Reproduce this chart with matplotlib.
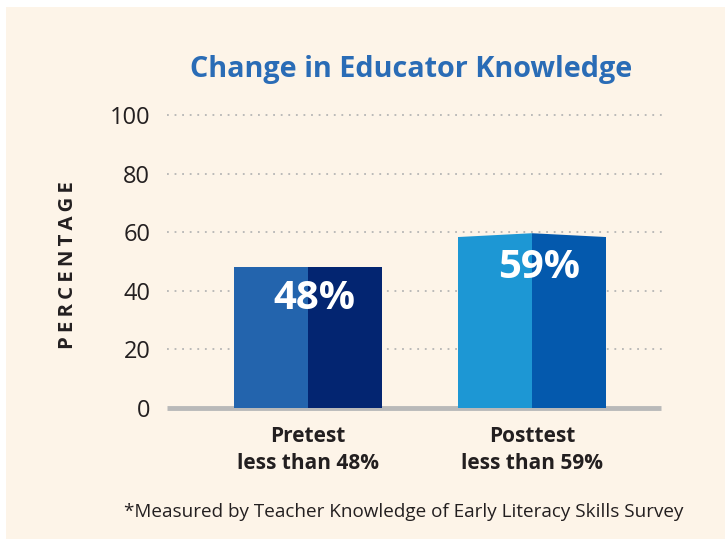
import matplotlib.pyplot as plt
import matplotlib.patches as mpatches
import numpy as np

plt.rcParams['font.family'] = ['Open Sans', 'DejaVu Sans']

categories = ['Pretest\nless than 48%', 'Posttest\nless than 59%']
values = [48, 59]
labels = ['48%', '59%']
roof = [0, 1.3]   # little peak on top of 2nd bar
left_colors = ['#2364ad', '#1d97d4']
right_colors = ['#032571', '#0459ad']
yticks = [0, 20, 40, 60, 80, 100]

W, H = 725, 539
fig = plt.figure(figsize=(W / 100, H / 100), dpi=100)
fig.patch.set_facecolor('white')
fig.patches.append(mpatches.Rectangle((6 / W, 0), 1, 1 - 7 / H, transform=fig.transFigure,
                                      facecolor='#fdf4e8', edgecolor='none', zorder=-10))

ax = fig.add_axes([167 / W, 1 - 408 / H, (661 - 167) / W, (408 - 115) / H])
ax.set_facecolor('none')
ax.set_xlim(-0.629, 1.576)
ax.set_ylim(0, 100)

x = np.arange(len(values))
w = 0.66
for i in range(len(values)):
    h = values[i] - roof[i] / 2
    ax.bar(x[i] - w / 2, h, width=w / 2, align='edge', color=left_colors[i], zorder=3)
    ax.bar(x[i], h, width=w / 2, align='edge', color=right_colors[i], zorder=3)
    if roof[i] > 0:
        ax.fill([x[i] - w / 2, x[i], x[i], x[i] - w / 2], [h, h + roof[i], h - 0.01, h - 0.01],
                color=left_colors[i], zorder=3, lw=0)
        ax.fill([x[i], x[i] + w / 2, x[i] + w / 2, x[i]], [h + roof[i], h, h - 0.01, h - 0.01],
                color=right_colors[i], zorder=3, lw=0)
    ax.text(x[i] + 0.03, h - 10.5, labels[i], color='white', fontsize=29, fontweight='bold',
            ha='center', va='center', zorder=4)

for t in yticks[1:]:
    ax.plot([-0.629, 1.585], [t, t], color='#b5b5b5', lw=1.3, ls=(0, (1, 3.2)), zorder=1,
            clip_on=False)
ax.plot([-0.629, 1.576], [0, 0], color='#b9b9b9', lw=3.5, zorder=2, clip_on=False,
        solid_capstyle='butt')

for s in ax.spines.values():
    s.set_visible(False)
ax.set_yticks(yticks)
ax.set_yticklabels([str(t) for t in yticks], fontsize=17, color='#231f20')
ax.tick_params(axis='y', length=0, pad=12)
ax.set_xticks(x)
ax.set_xticklabels(categories, fontsize=15, fontweight='bold', color='#231f20', linespacing=1.35)
ax.tick_params(axis='x', length=0, pad=13)

fig.text(68 / W, 1 - 265 / H, '\u2009'.join('PERCENTAGE'), rotation=90,
         fontsize=14.7, fontweight='bold', color='#231f20', ha='center', va='center')
fig.text(411 / W, 1 - 70 / H, 'Change in Educator Knowledge', fontsize=20.7, fontweight='bold',
         color='#2a6cb6', ha='center', va='center')
fig.text(404 / W, 1 - 512 / H, '*Measured by Teacher Knowledge of Early Literacy Skills Survey',
         fontsize=13.6, color='#231f20', ha='center', va='center')

fig.savefig('out.png', dpi=100, facecolor=fig.get_facecolor())
